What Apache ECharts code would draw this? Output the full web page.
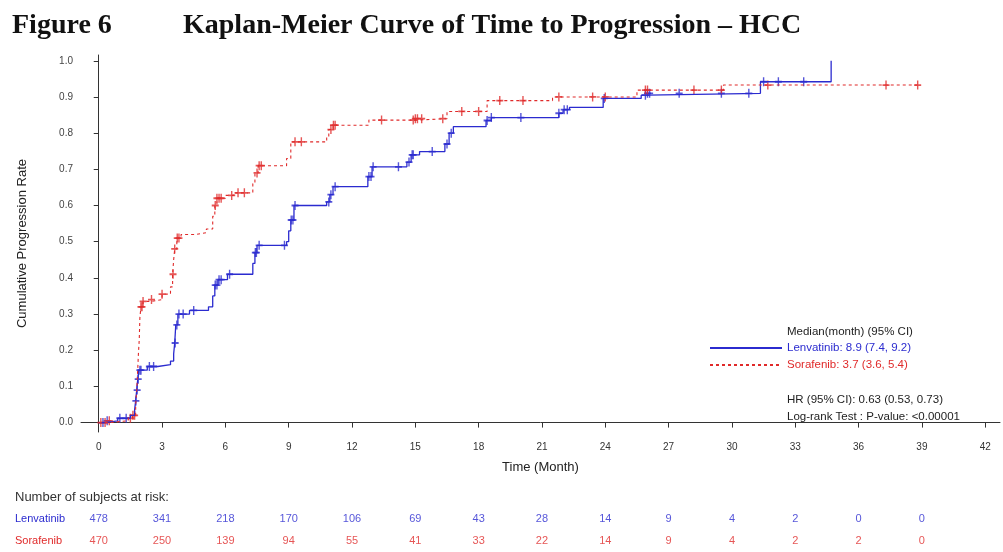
<!DOCTYPE html>
<html>
<head>
<meta charset="utf-8">
<script src="https://cdn.jsdelivr.net/npm/echarts@6/dist/echarts.min.js"></script>
<style>
  html, body { margin: 0; background: #fff; }
  #main { width: 1003px; height: 552px; }
</style>
</head>
<body>
<div id="main"></div>
<script>
// step points [month, cumulative rate]
var lenvatinibCurve = [
  [0, 0], [0.3, 0.005], [0.9, 0.012], [1.5, 0.02], [1.7, 0.035], [1.75, 0.06], [1.8, 0.09],
  [1.85, 0.12], [1.9, 0.145], [2.3, 0.155], [2.8, 0.16], [3.4, 0.17], [3.55, 0.19], [3.6, 0.22],
  [3.65, 0.27], [3.75, 0.30], [4.3, 0.31], [5.2, 0.32], [5.4, 0.35], [5.5, 0.38], [5.65, 0.395],
  [6.1, 0.41], [7.3, 0.44], [7.4, 0.47], [7.5, 0.49], [8.9, 0.5], [9.0, 0.53], [9.1, 0.56],
  [9.25, 0.60], [10.8, 0.61], [10.95, 0.63], [11.1, 0.652], [12.75, 0.68], [12.95, 0.707],
  [14.6, 0.72], [14.8, 0.74], [15.2, 0.749], [16.4, 0.77], [16.6, 0.80], [16.8, 0.818],
  [18.35, 0.835], [18.6, 0.843], [21.8, 0.855], [22.0, 0.865], [22.3, 0.871], [23.9, 0.896],
  [25.7, 0.905], [26.0, 0.91], [31.35, 0.942], [34.7, 0.942], [34.7, 1.0]
];
var sorafenibCurve = [
  [0, 0], [0.5, 0.005], [1.4, 0.012], [1.6, 0.02], [1.75, 0.05], [1.8, 0.09], [1.85, 0.15],
  [1.88, 0.19], [1.92, 0.23], [1.95, 0.29], [2.0, 0.32], [2.1, 0.335], [2.5, 0.34], [3.0, 0.355],
  [3.4, 0.375], [3.5, 0.41], [3.55, 0.45], [3.6, 0.48], [3.7, 0.51], [3.9, 0.52], [4.6, 0.525],
  [5.1, 0.535], [5.4, 0.57], [5.5, 0.60], [5.6, 0.62], [6.0, 0.628], [6.4, 0.635], [7.3, 0.66],
  [7.4, 0.69], [7.55, 0.71], [8.9, 0.73], [9.1, 0.776], [10.8, 0.79], [10.9, 0.81], [11.1, 0.822],
  [12.8, 0.836], [15.0, 0.84], [16.5, 0.86], [18.4, 0.89], [21.5, 0.9], [25.5, 0.919],
  [29.6, 0.933], [38.8, 0.933]
];
var lenvatinibCensored = [0.2, 0.4, 1.0, 1.3, 1.76, 1.82, 1.87, 1.95, 2.0, 2.4, 2.6, 3.62, 3.7,
  3.8, 4.0, 4.5, 5.52, 5.6, 5.7, 5.8, 6.2, 7.42, 7.47, 7.6, 8.8, 9.12, 9.2, 9.3, 10.9, 11.0, 11.2,
  12.8, 12.9, 13.0, 14.2, 14.7, 14.85, 14.9, 15.8, 16.5, 16.7, 18.4, 18.6, 20.0, 21.8, 22.05, 22.2,
  23.95, 25.9, 26.0, 26.1, 27.5, 29.5, 30.8, 31.5, 32.2, 33.4];
var sorafenibCensored = [0.1, 0.3, 0.5, 1.5, 1.62, 1.7, 2.0, 2.05, 2.1, 2.5, 3.0, 3.52, 3.6, 3.72,
  3.8, 5.52, 5.6, 5.7, 5.8, 6.3, 6.6, 6.9, 7.5, 7.6, 7.7, 9.3, 9.6, 11.0, 11.12, 11.2, 13.4, 14.9,
  15.0, 15.1, 15.3, 16.3, 17.2, 18.0, 19.0, 20.1, 21.8, 23.4, 24.0, 25.9, 26.0, 28.2, 29.5, 31.7,
  37.3, 38.8];

var monthTicks = [0, 3, 6, 9, 12, 15, 18, 21, 24, 27, 30, 33, 36, 39, 42];
var rateTicks = [0, 0.1, 0.2, 0.3, 0.4, 0.5, 0.6, 0.7, 0.8, 0.9, 1.0];

var riskTimes = [0, 3, 6, 9, 12, 15, 18, 21, 24, 27, 30, 33, 36, 39];
var lenvatinibRisk = [478, 341, 218, 170, 106, 69, 43, 28, 14, 9, 4, 2, 0, 0];
var sorafenibRisk = [470, 250, 139, 94, 55, 41, 33, 22, 14, 9, 4, 2, 2, 0];

var medianText = {
  Lenvatinib: 'Lenvatinib: 8.9 (7.4, 9.2)',
  Sorafenib: 'Sorafenib: 3.7 (3.6, 5.4)'
};

var blue = '#2b2bcf';
var red = '#e02a2a';
var plus = 'path://M4,0H6V4H10V6H6V10H4V6H0V4H4Z';

// value of a step curve at time t
function stepAt (curve, t) {
  var v = 0;
  for (var i = 0; i < curve.length; i++) {
    if (curve[i][0] <= t) v = curve[i][1];
  }
  return v;
}

function censorPoints (curve, times) {
  return times.map(function (t) { return [t, stepAt(curve, t)]; });
}

var chart = echarts.init(document.getElementById('main'));

var textFont = 'Liberation Sans, Arial, sans-serif';
var serifFont = 'Liberation Serif, Times New Roman, serif';

function note (text, left, top, size, color) {
  return {
    text: text, left: left, top: top, padding: 0,
    textStyle: { fontFamily: textFont, fontSize: size, fontWeight: 'normal', color: color }
  };
}

var option = {
  animation: false,
  backgroundColor: '#fff',
  textStyle: { fontFamily: textFont },
  title: [
    { text: 'Figure 6', left: 12, top: 12, padding: 0,
      textStyle: { fontFamily: serifFont, fontWeight: 'bold', fontSize: 28, color: '#111' } },
    { text: 'Kaplan-Meier Curve of Time to Progression \u2013 HCC', left: 183, top: 12, padding: 0,
      textStyle: { fontFamily: serifFont, fontWeight: 'bold', fontSize: 28, color: '#111' } },
    note('Median(month) (95% CI)', 787, 326, 11.5, '#222'),
    note('HR (95% CI): 0.63 (0.53, 0.73)', 787, 394, 11.5, '#222'),
    note('Log-rank Test : P-value: <0.00001', 787, 411, 11.5, '#222'),
    note('Number of subjects at risk:', 15, 491, 13, '#333')
  ],
  legend: {
    orient: 'vertical',
    left: 709,
    top: 342,
    padding: 0,
    itemWidth: 72,
    itemHeight: 14,
    itemGap: 5,
    selectedMode: false,
    itemStyle: { opacity: 0 },
    textStyle: { fontFamily: textFont, fontSize: 11.5 },
    formatter: function (name) { return medianText[name]; },
    data: [
      { name: 'Lenvatinib', textStyle: { color: blue } },
      { name: 'Sorafenib', textStyle: { color: red } }
    ]
  },
  grid: [
    { left: 81, right: 3, top: 55, bottom: 120 },
    { left: 81, right: 3, top: 508, height: 48 }
  ],
  xAxis: [
    {
      gridIndex: 0,
      type: 'value',
      min: -0.84,
      max: 42.7,
      name: 'Time (Month)',
      nameLocation: 'middle',
      nameGap: 29,
      nameTextStyle: { fontFamily: textFont, fontSize: 13, color: '#222' },
      axisLine: { lineStyle: { color: '#333', width: 1 } },
      axisTick: { customValues: monthTicks, length: 5, lineStyle: { color: '#333' } },
      axisLabel: { customValues: monthTicks, fontSize: 10, color: '#333', margin: 10 },
      splitLine: { show: false }
    },
    {
      gridIndex: 1,
      type: 'value',
      min: -0.84,
      max: 42.7,
      show: false
    }
  ],
  yAxis: [
    {
      gridIndex: 0,
      type: 'value',
      min: -0.026,
      max: 1.016,
      name: 'Cumulative Progression Rate',
      nameLocation: 'middle',
      nameGap: 52,
      nameTextStyle: { fontFamily: textFont, fontSize: 13, color: '#222' },
      axisLine: { show: true, lineStyle: { color: '#333', width: 1 } },
      axisTick: { show: true, customValues: rateTicks, length: 5, lineStyle: { color: '#333' } },
      axisLabel: {
        customValues: rateTicks, fontSize: 10, color: '#444', margin: 8,
        formatter: function (v) { return v.toFixed(1); }
      },
      splitLine: { show: false }
    },
    {
      gridIndex: 1,
      type: 'category',
      inverse: true,
      data: ['Lenvatinib', 'Sorafenib'],
      axisLine: { show: false },
      axisTick: { show: false },
      axisLabel: {
        align: 'left',
        margin: 66,
        fontSize: 11,
        formatter: function (v) { return '{' + (v === 'Lenvatinib' ? 'b' : 'r') + '|' + v + '}'; },
        rich: { b: { color: blue, fontSize: 11 }, r: { color: red, fontSize: 11 } }
      }
    }
  ],
  series: [
    {
      name: 'Lenvatinib',
      type: 'line',
      step: 'end',
      symbol: 'none',
      xAxisIndex: 0, yAxisIndex: 0,
      lineStyle: { color: blue, width: 1.3 },
      itemStyle: { color: blue },
      data: lenvatinibCurve
    },
    {
      name: 'Sorafenib',
      type: 'line',
      step: 'end',
      symbol: 'none',
      xAxisIndex: 0, yAxisIndex: 0,
      lineStyle: { color: red, width: 1.1, type: [3, 3] },
      itemStyle: { color: red },
      data: sorafenibCurve
    },
    {
      name: 'Lenvatinib censored',
      type: 'scatter',
      symbol: plus,
      symbolSize: [7, 9],
      xAxisIndex: 0, yAxisIndex: 0,
      itemStyle: { color: blue },
      data: censorPoints(lenvatinibCurve, lenvatinibCensored)
    },
    {
      name: 'Sorafenib censored',
      type: 'scatter',
      symbol: plus,
      symbolSize: [7, 9],
      xAxisIndex: 0, yAxisIndex: 0,
      itemStyle: { color: red },
      data: censorPoints(sorafenibCurve, sorafenibCensored)
    },
    {
      name: 'Lenvatinib at risk',
      type: 'scatter',
      xAxisIndex: 1, yAxisIndex: 1,
      symbolSize: 0,
      label: { show: true, position: 'inside', color: blue, fontSize: 11, formatter: function (p) { return p.value[2]; } },
      data: riskTimes.map(function (t, i) { return [t, 'Lenvatinib', lenvatinibRisk[i]]; })
    },
    {
      name: 'Sorafenib at risk',
      type: 'scatter',
      xAxisIndex: 1, yAxisIndex: 1,
      symbolSize: 0,
      label: { show: true, position: 'inside', color: red, fontSize: 11, formatter: function (p) { return p.value[2]; } },
      data: riskTimes.map(function (t, i) { return [t, 'Sorafenib', sorafenibRisk[i]]; })
    }
  ]
};

chart.setOption(option);
</script>
</body>
</html>
